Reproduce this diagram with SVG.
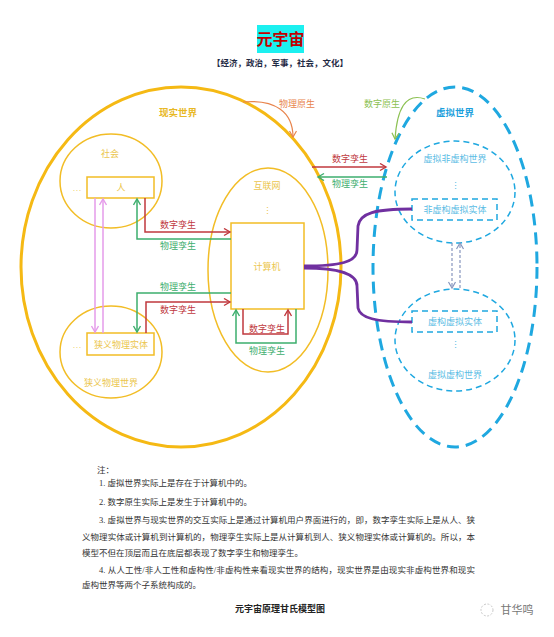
<svg xmlns="http://www.w3.org/2000/svg" width="554" height="637" viewBox="0 0 554 637">
<defs>
<style>
text{font-family:"Liberation Serif","Noto Sans CJK SC",serif;text-anchor:middle;}
.y{fill:#EBC64E;font-size:9px;}
.yb{fill:#E8B824;font-size:9.5px;font-weight:bold;}
.r{fill:#C0393E;font-size:9px;}
.g{fill:#3DAE6E;font-size:9px;}
.o{fill:#E8844C;font-size:9px;}
.lg{fill:#8CC152;font-size:9px;}
.b{fill:#5BBCE4;font-size:9px;}
.bb{fill:#1BA0DC;font-size:9.5px;font-weight:bold;}
.n{fill:#333;font-size:8.5px;text-anchor:start;}
.ys{fill:none;stroke:#F2BD26;stroke-width:1.5;}
.ra{fill:none;stroke:#C0393E;stroke-width:1.5;marker-end:url(#mr);}
.ga{fill:none;stroke:#3DAE6E;stroke-width:1.5;marker-end:url(#mg);}
.pa{fill:none;stroke:#E59BEA;stroke-width:1.5;marker-end:url(#mp);}
.da{fill:none;stroke:#8796BE;stroke-width:1.2;stroke-dasharray:3,2;marker-end:url(#md);}
.bd{fill:none;stroke:#1FA8E0;stroke-width:1.5;stroke-dasharray:6,4;}
.pu{fill:none;stroke:#7030A0;stroke-width:2.8;}
</style>
<marker id="mr" markerWidth="10" markerHeight="10" refX="7" refY="4" orient="auto" markerUnits="userSpaceOnUse"><path d="M1,0.5 L7,4 L1,7.5" fill="none" stroke="#C0393E" stroke-width="1.4"/></marker>
<marker id="mg" markerWidth="10" markerHeight="10" refX="7" refY="4" orient="auto" markerUnits="userSpaceOnUse"><path d="M1,0.5 L7,4 L1,7.5" fill="none" stroke="#3DAE6E" stroke-width="1.4"/></marker>
<marker id="mp" markerWidth="10" markerHeight="10" refX="7" refY="4" orient="auto" markerUnits="userSpaceOnUse"><path d="M1,0.5 L7,4 L1,7.5" fill="none" stroke="#E59BEA" stroke-width="1.4"/></marker>
<marker id="md" markerWidth="10" markerHeight="10" refX="7" refY="4" orient="auto" markerUnits="userSpaceOnUse"><path d="M1,0.5 L7,4 L1,7.5" fill="none" stroke="#8796BE" stroke-width="1.2"/></marker>
<marker id="mo" markerWidth="10" markerHeight="10" refX="7" refY="4" orient="auto" markerUnits="userSpaceOnUse"><path d="M1,0.5 L7,4 L1,7.5" fill="none" stroke="#E8844C" stroke-width="1.2"/></marker>
<marker id="ml" markerWidth="10" markerHeight="10" refX="7" refY="4" orient="auto" markerUnits="userSpaceOnUse"><path d="M1,0.5 L7,4 L1,7.5" fill="none" stroke="#8CC152" stroke-width="1.2"/></marker>
</defs>
<rect width="554" height="637" fill="#fff"/>

<g id="title">
<rect x="257" y="25" width="47" height="28" fill="#1CF0F0"/>
<text x="280.5" y="45" style="font-size:16px;font-weight:bold;fill:#C00000;font-family:'Noto Sans CJK SC',sans-serif">元宇宙</text>
<text x="280" y="66" style="font-size:8.5px;font-weight:bold;fill:#1F2A44">【经济，政治，军事，社会，文化】</text>
</g>

<g id="real-world">
<ellipse cx="181" cy="267" rx="160" ry="180" fill="none" stroke="#F5B914" stroke-width="3"/>
<text class="yb" x="178" y="116">现实世界</text>
</g>

<g id="society">
<ellipse cx="111" cy="181" rx="51" ry="47" class="ys"/>
<text class="y" x="110" y="157">社会</text>
<text class="y" x="77" y="191">…</text>
</g>
<g id="person">
<rect x="87" y="177" width="67" height="21" class="ys" fill="#fff"/>
<text class="y" x="121" y="191">人</text>
</g>

<g id="narrow-world">
<ellipse cx="111" cy="352" rx="51" ry="46" class="ys"/>
<text class="y" x="77" y="348">…</text>
<text class="y" x="111" y="386">狭义物理世界</text>
</g>
<g id="narrow-entity">
<rect x="87" y="333" width="67" height="22" class="ys" fill="#fff"/>
<text class="y" x="121" y="348">狭义物理实体</text>
</g>

<g id="internet">
<ellipse cx="268" cy="270" rx="60" ry="102" class="ys"/>
<text class="y" x="267" y="189">互联网</text>
<text class="y" x="267" y="214">⋮</text>
</g>
<g id="computer">
<rect x="231" y="223" width="73" height="86" class="ys" fill="#fff"/>
<text class="y" x="267" y="270">计算机</text>
</g>

<g id="virtual-world">
<ellipse cx="455" cy="267" rx="82" ry="180" fill="none" stroke="#1FA8E0" stroke-width="3" stroke-dasharray="12,7"/>
<text class="bb" x="455" y="116">虚拟世界</text>
</g>
<g id="virtual-nonfiction-world">
<ellipse cx="455" cy="192" rx="60" ry="51" class="bd"/>
<text class="b" x="455" y="162">虚拟非虚构世界</text>
<text class="b" x="455" y="189">⋮</text>
</g>
<g id="nonfiction-entity">
<rect x="412" y="199" width="85" height="21" class="bd" stroke-width="1.2" stroke-dasharray="4,3" fill="#fff"/>
<text class="b" x="455" y="213">非虚构虚拟实体</text>
</g>
<g id="virtual-fiction-world">
<ellipse cx="455" cy="340" rx="60" ry="51" class="bd"/>
<text class="b" x="455" y="348">⋮</text>
<text class="b" x="455" y="378">虚拟虚构世界</text>
</g>
<g id="fiction-entity">
<rect x="412" y="311" width="85" height="21" class="bd" stroke-width="1.2" stroke-dasharray="4,3" fill="#fff"/>
<text class="b" x="455" y="325">虚构虚拟实体</text>
</g>

<g id="connectors">
<path class="ra" d="M145,198 V232 H230"/>
<path class="ga" d="M231,239 H137 V199"/>
<path class="ga" d="M231,293 H137 V332"/>
<path class="ra" d="M146,333 V302 H230"/>
<path class="ra" d="M243,309 V334 H288 V310" stroke="#D0737A"/>
<path class="ga" d="M296,309 V343 H236 V310"/>
<path class="ra" d="M312,167 H386"/>
<path class="ga" d="M387,177 H318"/>
<path class="pa" d="M95,198 V332"/>
<path class="pa" d="M103,333 V199"/>
<path class="da" d="M452,243 V288"/>
<path class="da" d="M460,288 V243"/>
<path d="M243,102 C275,99 293,112 293,137" fill="none" stroke="#E8844C" stroke-width="1.2" marker-end="url(#mo)"/>
<path d="M425,99 C405,92 397,110 395,139" fill="none" stroke="#8CC152" stroke-width="1.2" marker-end="url(#ml)"/>
<path class="pu" d="M304,266 C340,266 357,262 357,250 L358,226 C360,213 375,209 412,209"/>
<path class="pu" d="M304,268 C340,268 357,274 357,286 L358,308 C360,318 375,322 412,322"/>
<text class="r" x="178" y="228">数字孪生</text>
<text class="g" x="178" y="249">物理孪生</text>
<text class="g" x="178" y="290">物理孪生</text>
<text class="r" x="178" y="313">数字孪生</text>
<text class="r" x="267" y="332">数字孪生</text>
<text class="g" x="267" y="354">物理孪生</text>
<text class="r" x="350" y="162">数字孪生</text>
<text class="g" x="350" y="187">物理孪生</text>
<text class="o" x="297" y="107">物理原生</text>
<text class="lg" x="382" y="107">数字原生</text>
</g>

<g id="notes">
<text class="n" x="97" y="473">注：</text>
<text class="n" x="99" y="486">1. 虚拟世界实际上是存在于计算机中的。</text>
<text class="n" x="99" y="505">2. 数字原生实际上是发生于计算机中的。</text>
<text class="n" x="99" y="523" textLength="376" lengthAdjust="spacing">3. 虚拟世界与现实世界的交互实际上是通过计算机用户界面进行的，即，数字孪生实际上是从人、狭</text>
<text class="n" x="82" y="540" textLength="393" lengthAdjust="spacing">义物理实体或计算机到计算机的，物理孪生实际上是从计算机到人、狭义物理实体或计算机的。所以，本</text>
<text class="n" x="82" y="556">模型不但在顶层而且在底层都表现了数字孪生和物理孪生。</text>
<text class="n" x="99" y="573" textLength="376" lengthAdjust="spacing">4. 从人工性/非人工性和虚构性/非虚构性来看现实世界的结构，现实世界是由现实非虚构世界和现实</text>
<text class="n" x="82" y="588">虚构世界等两个子系统构成的。</text>
<text x="280" y="612" style="font-size:9px;font-weight:bold;fill:#222">元宇宙原理甘氏模型图</text>
</g>

<g id="watermark">
<circle cx="487" cy="610" r="6" fill="none" stroke="#bbb" stroke-width="0.8" stroke-dasharray="2,1.5"/>
<text x="517" y="614" style="font-size:11px;fill:#777;font-family:'Noto Sans CJK SC',sans-serif">甘华鸣</text>
</g>
</svg>
